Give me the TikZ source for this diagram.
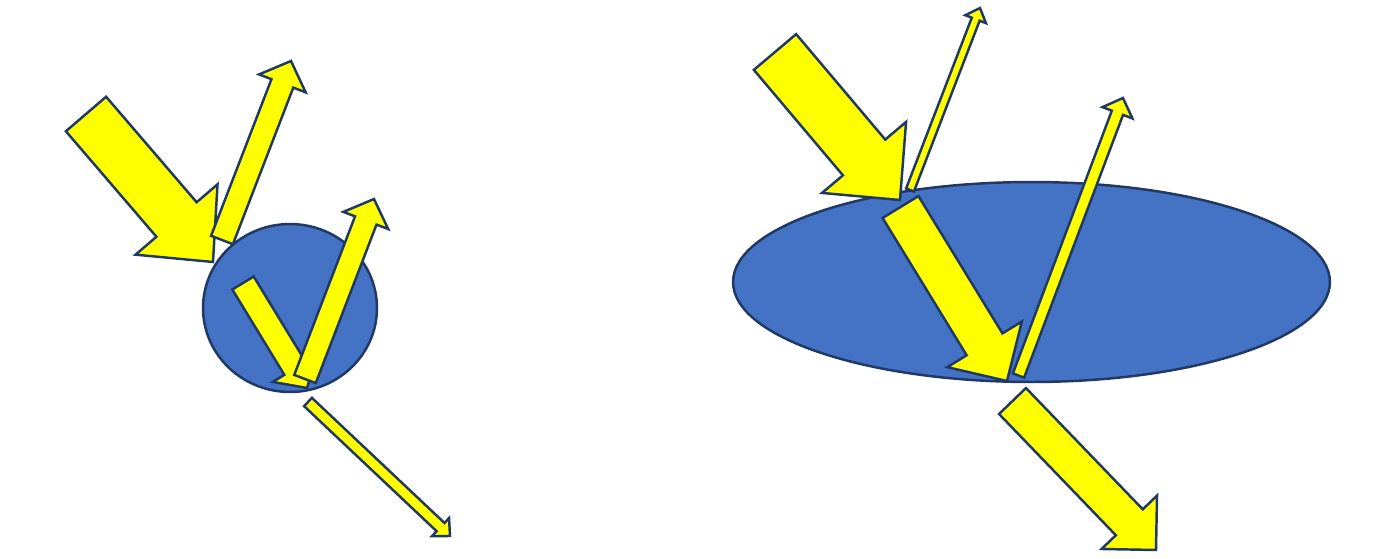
\documentclass[tikz,border=0pt]{standalone}
\usepackage{xcolor}
\usepackage{tikz}
\usetikzlibrary{calc}

\definecolor{rayyellow}{HTML}{FFFF00}
\definecolor{dropblue}{HTML}{4472C4}
\definecolor{edgenavy}{HTML}{1F3864}

% block arrow: tail, tip, shaft half width, head half width, head length (px)
\newcommand{\lightray}[5]{%
  \coordinate (rb) at ($(#2)!#5*0.02cm!(#1)$);
  \draw[ray] ($(#1)!#3*0.02cm!90:(#2)$) -- ($(rb)!#3*0.02cm!90:(#2)$)
    -- ($(rb)!#4*0.02cm!90:(#2)$) -- (#2) -- ($(rb)!#4*0.02cm!-90:(#2)$)
    -- ($(rb)!#3*0.02cm!-90:(#2)$) -- ($(#1)!#3*0.02cm!-90:(#2)$) -- cycle;}

\begin{document}
\begin{tikzpicture}[
  x=0.02cm, y=-0.02cm,
  ray/.style={draw=edgenavy, fill=rayyellow, line width=1.4pt},
  drop/.style={draw=edgenavy, fill=dropblue, line width=1.4pt},
]
  \useasboundingbox (0,0) rectangle (1373,558);

  % small drop
  \draw[drop] (290,308) ellipse [x radius=1.74cm, y radius=1.68cm];
  \coordinate (inLtail) at (86,114);     \coordinate (inLtip) at (213,262);
  \coordinate (reLtail) at (222,240);    \coordinate (reLtip) at (291,61);
  \coordinate (downLtail) at (243,283);  \coordinate (downLtip) at (307,388);
  \coordinate (upLtail) at (305,379);    \coordinate (upLtip) at (374,199);
  \coordinate (outLtail) at (308,402);   \coordinate (outLtip) at (450,536);
  \lightray{inLtail}{inLtip}{26.5}{54}{56}
  \lightray{reLtail}{reLtip}{11.7}{25}{24}
  \lightray{downLtail}{downLtip}{12.5}{26}{23}
  \lightray{upLtail}{upLtip}{11.5}{24}{23}
  \lightray{outLtail}{outLtip}{5.7}{12.4}{13}

  % large drop
  \draw[drop] (1031.5,282) ellipse [x radius=5.97cm, y radius=2cm];
  \coordinate (inRtail) at (775,52);        \coordinate (inRtip) at (900,200);
  \coordinate (reRtail) at (910,190);       \coordinate (reRtip) at (980,8);
  \coordinate (downRtail) at (900.5,207);   \coordinate (downRtip) at (1007,381);
  \coordinate (upRtail) at (1018.5,375.5);  \coordinate (upRtip) at (1123,98);
  \coordinate (outRtail) at (1012.5,401);   \coordinate (outRtip) at (1156,550);
  \lightray{inRtail}{inRtip}{27.7}{55}{55.7}
  \lightray{reRtail}{reRtip}{4.2}{11}{12}
  \lightray{downRtail}{downRtip}{21}{43.7}{43}
  \lightray{upRtail}{upRtip}{6}{16}{15.8}
  \lightray{outRtail}{outRtip}{18.7}{38.5}{38.5}
\end{tikzpicture}
\end{document}
